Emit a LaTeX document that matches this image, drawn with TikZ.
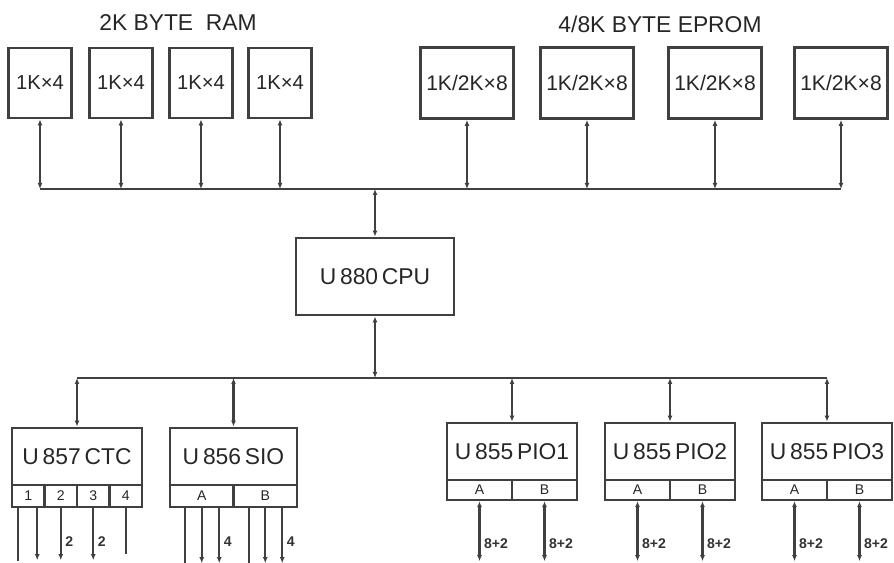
\documentclass[tikz,border=0pt]{standalone}
\usepackage{fontspec}
\setmainfont{Liberation Sans}
\usetikzlibrary{arrows.meta}

\tikzset{
  box/.style={draw=black!75,line width=1.6pt,inner sep=1pt,text=black!85},
  cell/.style={draw=black!75,line width=1.4pt,inner sep=0pt,text=black!85,font=\fontsize{8}{9}\selectfont},
  wire/.style={draw=black!75,line width=1.2pt},
  buswidth/.style={font=\fontsize{8}{9}\selectfont\bfseries,text=black!80,anchor=west,inner sep=2pt},
  title/.style={font=\fontsize{13}{15}\selectfont,text=black!85},
}

\begin{document}
\begin{tikzpicture}[x=0.02cm,y=-0.02cm,>={Latex[length=1.2mm,width=1mm]}]
  \useasboundingbox (0,0) rectangle (894,563);
  % Speicher
  \node[title] (ramtitle) at (178,23) {2K BYTE\ \ RAM};
  \node[title] (epromtitle) at (660,24) {4/8K BYTE EPROM};
  \foreach \n/\x in {1/40,2/121,3/201,4/280}
    \node[box,minimum width=1.26cm,minimum height=1.4cm,font=\fontsize{11.5}{13}\selectfont] (ram\n) at (\x,83) {1K×4};
  \foreach \n/\x in {1/467,2/587,3/715,4/841}
    \node[box,minimum width=1.86cm,minimum height=1.42cm,font=\fontsize{12}{14}\selectfont] (eprom\n) at (\x,83) {1K/2K×8};
  \coordinate (tb) at (0,189);
  \draw[wire] (ram1.south |- tb) -- (eprom4.south |- tb);
  \foreach \n in {1,...,4}{
    \draw[wire,<->] (ram\n.south) -- (ram\n.south |- tb);
    \draw[wire,<->] (eprom\n.south) -- (eprom\n.south |- tb);
  }
  % CPU
  \node[box,minimum width=3.16cm,minimum height=1.54cm,font=\fontsize{13}{15}\selectfont] (cpu) at (375,276.5) {U\,880\,CPU};
  \draw[wire,<->] (cpu.north) -- (cpu.north |- tb);
  \coordinate (lb) at (0,378);
  \draw[wire,<->] (cpu.south) -- (cpu.south |- lb);
  % Peripherie
  \node[box,minimum width=2.6cm,minimum height=1.14cm,font=\fontsize{13}{15}\selectfont] (ctc) at (77,456.5) {U\,857\,CTC};
  \foreach \n/\x in {1/28.25,2/60.75,3/93.25,4/125.75}
    \node[cell,minimum width=0.65cm,minimum height=0.44cm] (ctc\n) at (\x,496) {\n};
  \node[box,minimum width=2.54cm,minimum height=1.14cm,font=\fontsize{13}{15}\selectfont] (sio) at (233.5,456.5) {U\,856\,SIO};
  \node[cell,minimum width=1.27cm,minimum height=0.44cm] (sioa) at (201.75,496) {A};
  \node[cell,minimum width=1.27cm,minimum height=0.44cm] (siob) at (265.25,496) {B};
  \foreach \n/\x in {1/512,2/670,3/827}{
    \node[box,minimum width=2.6cm,minimum height=1.14cm,font=\fontsize{13}{15}\selectfont] (pio\n) at (\x,451.5) {U\,855\,PIO\n};
    \node[cell,minimum width=1.3cm,minimum height=0.4cm] (pio\n a) at (\x-32.5,490) {A};
    \node[cell,minimum width=1.3cm,minimum height=0.4cm] (pio\n b) at (\x+32.5,490) {B};
    \draw[wire,<->] (pio\n a.south) -- ++(0,60) node[buswidth,pos=.7] {8+2};
    \draw[wire,<->] (pio\n b.south) -- ++(0,60) node[buswidth,pos=.7] {8+2};
  }
  \draw[wire] (ctc.north |- lb) -- (pio3.north |- lb);
  \foreach \c in {ctc,sio,pio1,pio2,pio3}
    \draw[wire,<->] (\c.north |- lb) -- (\c.north);
  % Kanaele
  \draw[wire] ([xshift=-0.2cm]ctc1.south) -- ++(0,53);
  \draw[wire,->] ([xshift=0.18cm]ctc1.south) -- ++(0,52);
  \draw[wire,->] (ctc2.south) -- ++(0,52) node[buswidth,pos=.65] {2};
  \draw[wire,->] (ctc3.south) -- ++(0,52) node[buswidth,pos=.65] {2};
  \draw[wire] (ctc4.south) -- ++(0,46);
  \draw[wire] ([xshift=-0.33cm]sioa.south) -- ++(0,55);
  \draw[wire,->] (sioa.south) -- ++(0,55);
  \draw[wire,->] ([xshift=0.35cm]sioa.south) -- ++(0,55) node[buswidth,pos=.6] {4};
  \draw[wire] ([xshift=-0.32cm]siob.south) -- ++(0,55);
  \draw[wire,->] (siob.south) -- ++(0,55);
  \draw[wire,->] ([xshift=0.34cm]siob.south) -- ++(0,55) node[buswidth,pos=.6] {4};
\end{tikzpicture}
\end{document}
